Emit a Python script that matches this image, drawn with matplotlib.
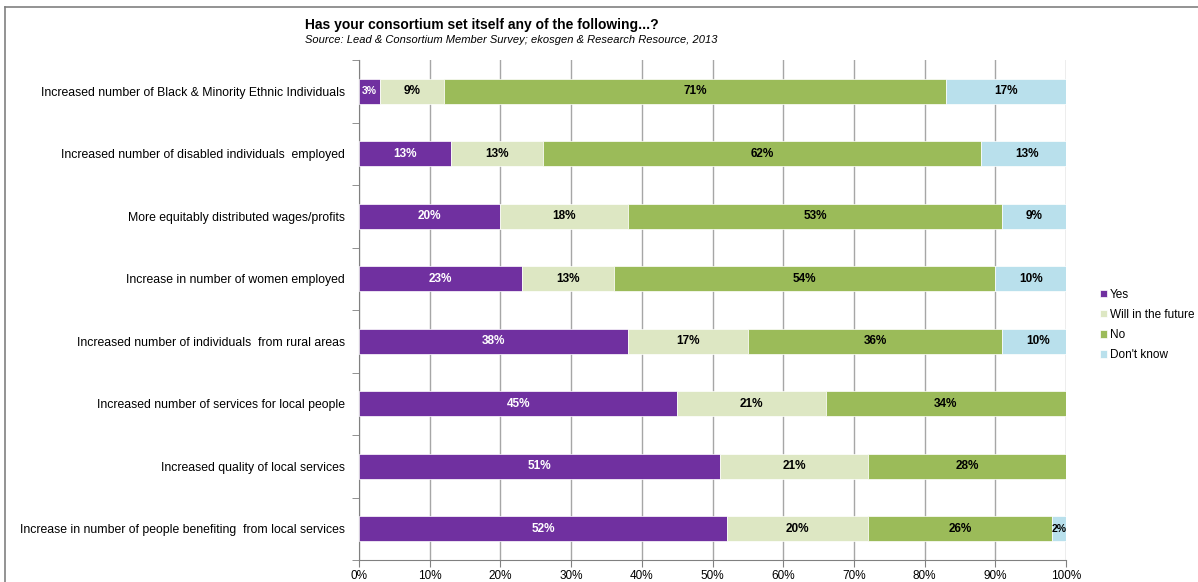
import matplotlib.pyplot as plt
from matplotlib.lines import Line2D
import numpy as np

plt.rcParams['font.family'] = ['Liberation Sans', 'DejaVu Sans']

categories = [
    'Increased number of Black & Minority Ethnic Individuals',
    'Increased number of disabled individuals  employed',
    'More equitably distributed wages/profits',
    'Increase in number of women employed',
    'Increased number of individuals  from rural areas',
    'Increased number of services for local people',
    'Increased quality of local services',
    'Increase in number of people benefiting  from local services',
]
yes = [3, 13, 20, 23, 38, 45, 51, 52]
future = [9, 13, 18, 13, 17, 21, 21, 20]
no = [71, 62, 53, 54, 36, 34, 28, 26]
dont_know = [17, 13, 9, 10, 10, 0, 0, 2]

series = [
    ('Yes', yes, '#7030A0', 'white'),
    ('Will in the future', future, '#DDE7C3', 'black'),
    ('No', no, '#9BBB59', 'black'),
    ("Don't know", dont_know, '#B9E0EC', 'black'),
]

fig = plt.figure(figsize=(11.98, 5.82), dpi=100)
ax = fig.add_axes([0.2997, 0.0378, 0.5902, 0.8591])

y = np.arange(len(categories))
left = np.zeros(len(categories))
for name, vals, color, tcolor in series:
    vals = np.array(vals, dtype=float)
    bars = ax.barh(y, vals, left=left, height=0.4, color=color, label=name,
                   edgecolor='white', linewidth=0.5, zorder=3)
    for b, v in zip(bars, vals):
        if v > 0:
            fs = 7.5 if v < 5 else 8.5
            ax.text(b.get_x() + b.get_width() / 2, b.get_y() + b.get_height() / 2,
                    f'{int(v)}%', ha='center', va='center', color=tcolor,
                    fontsize=fs, fontweight='bold', zorder=4)
    left += vals

ax.set_xlim(0, 100)
ax.set_ylim(len(categories) - 0.5, -0.5)
ax.set_xticks(np.arange(0, 101, 10))
ax.set_xticklabels([f'{t}%' for t in range(0, 101, 10)], fontsize=8.5)
ax.set_yticks(y)
ax.set_yticklabels(categories, fontsize=8.8)
ax.set_yticks(np.arange(-0.5, len(categories), 1), minor=True)
ax.tick_params(axis='y', which='major', length=0, pad=10)
ax.tick_params(axis='y', which='minor', length=5, color='#808080', direction='out')
ax.tick_params(axis='x', length=5, color='#808080', pad=2)
ax.grid(axis='x', color='#A6A6A6', linewidth=1, zorder=0)
for s in ['top', 'right']:
    ax.spines[s].set_visible(False)
for s in ['left', 'bottom']:
    ax.spines[s].set_color('#808080')

fig.text(0.2546, 1 - 29 / 582, 'Has your consortium set itself any of the following...?',
         fontsize=10, fontweight='bold', ha='left', va='baseline')
fig.text(0.2546, 1 - 43 / 582, 'Source: Lead & Consortium Member Survey; ekosgen & Research Resource, 2013',
         fontsize=8, fontstyle='italic', ha='left', va='baseline')

ax.legend(loc='center left', bbox_to_anchor=(1.033, 0.47), frameon=False, fontsize=8.5,
          handlelength=0.6, handleheight=0.6, handletextpad=0.2, labelspacing=0.7)

# outer frame (top and left edges only)
fig.add_artist(Line2D([5 / 1198, 1], [1 - 7 / 582, 1 - 7 / 582], color='#808080', lw=1.2))
fig.add_artist(Line2D([5 / 1198, 5 / 1198], [0, 1 - 7 / 582], color='#808080', lw=1.2))

fig.savefig('out.png', dpi=100)
